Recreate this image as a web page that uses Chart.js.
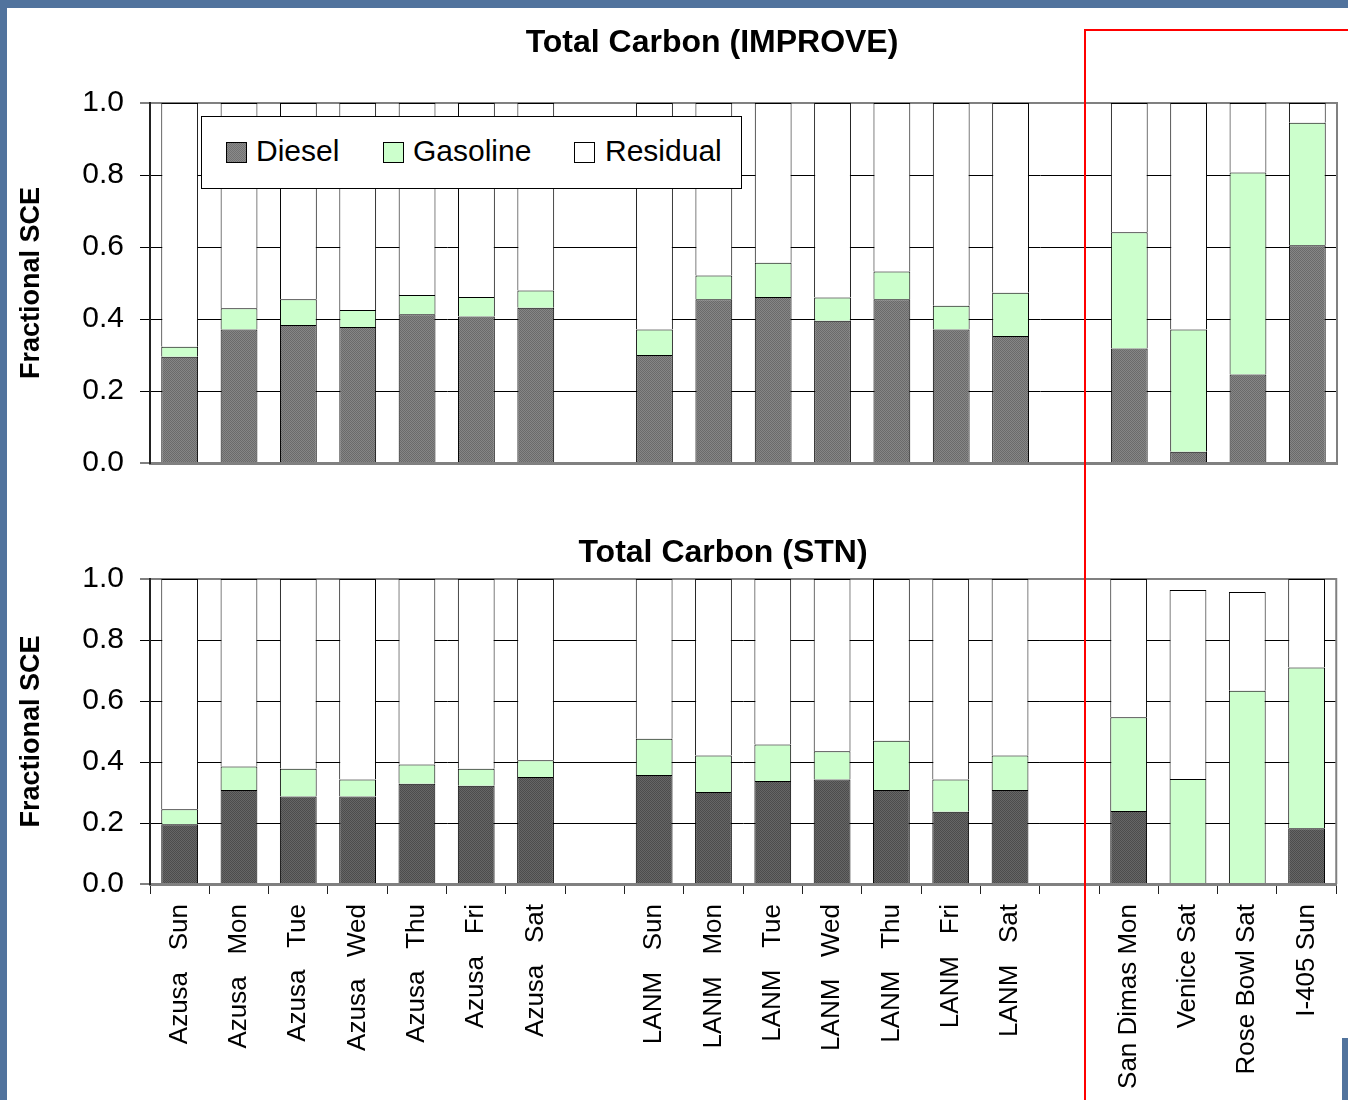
<!DOCTYPE html>
<html>
<head>
<meta charset="utf-8">
<title>Total Carbon source apportionment</title>
<script src="https://cdn.jsdelivr.net/npm/chart.js@4.4.1/dist/chart.umd.min.js"></script>
<style>
  html, body { margin: 0; padding: 0; }
  body {
    width: 1348px; height: 1100px; overflow: hidden; position: relative;
    background: #51739d;
    font-family: "Liberation Sans", Arial, sans-serif; color: #000;
  }
  #sheet { position: absolute; left: 7px; top: 8px; right: 0; bottom: 0; background: #fff; }
  #corner { position: absolute; left: 1342px; top: 1038px; width: 6px; height: 62px; background: #51739d; }
  canvas.plot { position: absolute; left: 0; }
  #improveCanvas { top: 0; }
  #stnCanvas { top: 500px; }
  .title {
    position: absolute; font-weight: bold; font-size: 32px; line-height: 38px;
    white-space: nowrap; transform: translateX(-50%);
  }
  #legend {
    position: absolute; left: 201px; top: 116px; width: 539px; height: 71px;
    border: 1px solid #000; background: #fff;
  }
  #legend .sw { position: absolute; top: 25px; width: 19px; height: 19px; border: 1px solid #000; box-sizing: content-box; }
  #legend .lbl { position: absolute; top: 17px; font-size: 30px; line-height: 34px; white-space: nowrap; }
  .red { position: absolute; background: #ff0000; }
</style>
</head>
<body>
<div id="sheet"></div>
<div id="corner"></div>

<canvas id="improveCanvas" class="plot" width="1348" height="498"></canvas>
<canvas id="stnCanvas" class="plot" width="1348" height="600"></canvas>

<div class="title" style="left:712px; top:22px;">Total Carbon (IMPROVE)</div>
<div class="title" style="left:723px; top:532px;">Total Carbon (STN)</div>

<div id="legend">
  <div class="sw" style="left:24px; background: repeating-conic-gradient(#8a8a8a 0 25%, #727272 0 50%) 0 0/2px 2px;"></div>
  <div class="lbl" style="left:54px;">Diesel</div>
  <div class="sw" style="left:181px; background:#ccffcc;"></div>
  <div class="lbl" style="left:211px;">Gasoline</div>
  <div class="sw" style="left:372px; background:#ffffff;"></div>
  <div class="lbl" style="left:403px;">Residual</div>
</div>

<div class="red" style="left:1084px; top:29px; width:264px; height:2px;"></div>
<div class="red" style="left:1084px; top:29px; width:2px; height:1071px;"></div>

<script>
// Sites / days along the category axis; blank entries leave a gap between groups
const categories = [
  'Azusa   Sun', 'Azusa   Mon', 'Azusa   Tue', 'Azusa   Wed', 'Azusa   Thu', 'Azusa   Fri', 'Azusa   Sat',
  '',
  'LANM   Sun', 'LANM   Mon', 'LANM   Tue', 'LANM   Wed', 'LANM   Thu', 'LANM   Fri', 'LANM   Sat',
  '',
  'San Dimas Mon', 'Venice Sat', 'Rose Bowl Sat', 'I-405 Sun'
];

const seriesNames = ['Diesel', 'Gasoline', 'Residual'];

// Fractional SCE, IMPROVE total carbon
const improveDiesel   = [0.295, 0.371, 0.383, 0.378, 0.413, 0.407, 0.431, null, 0.300, 0.455, 0.461, 0.395, 0.455, 0.371, 0.353, null, 0.318, 0.031, 0.246, 0.605];
const improveGasoline = [0.028, 0.059, 0.072, 0.047, 0.054, 0.054, 0.048, null, 0.071, 0.066, 0.095, 0.065, 0.077, 0.066, 0.120, null, 0.323, 0.340, 0.561, 0.340];
const improveResidual = [0.677, 0.570, 0.545, 0.575, 0.533, 0.539, 0.521, null, 0.629, 0.479, 0.444, 0.540, 0.468, 0.563, 0.527, null, 0.359, 0.629, 0.193, 0.055];

// Fractional SCE, STN total carbon
const stnDiesel   = [0.196, 0.308, 0.287, 0.287, 0.329, 0.322, 0.351, null, 0.357, 0.302, 0.338, 0.343, 0.308, 0.237, 0.308, null, 0.239, 0, 0, 0.183];
const stnGasoline = [0.049, 0.077, 0.091, 0.056, 0.063, 0.056, 0.055, null, 0.119, 0.119, 0.119, 0.092, 0.162, 0.106, 0.113, null, 0.308, 0.344, 0.634, 0.527];
const stnResidual = [0.755, 0.615, 0.622, 0.657, 0.608, 0.622, 0.594, null, 0.524, 0.579, 0.543, 0.565, 0.530, 0.657, 0.579, null, 0.453, 0.620, 0.323, 0.290];

const yTicks = [0, 0.2, 0.4, 0.6, 0.8, 1.0];
const yAxisTitle = 'Fractional SCE';

Chart.defaults.font.family = '"Liberation Sans", Arial, sans-serif';
Chart.defaults.color = '#000';

// fine two-tone stipple used for the diesel fill
function stipple(light, dark) {
  const c = document.createElement('canvas');
  c.width = 2; c.height = 2;
  const g = c.getContext('2d');
  g.fillStyle = light; g.fillRect(0, 0, 2, 2);
  g.fillStyle = dark; g.fillRect(0, 0, 1, 1); g.fillRect(1, 1, 1, 1);
  return g.createPattern(c, 'repeat');
}

// gray right-hand edge of the plot area
const plotFrame = {
  id: 'plotFrame',
  beforeDatasetsDraw(chart) {
    const { ctx, chartArea: a } = chart;
    ctx.save();
    ctx.strokeStyle = '#808080';
    ctx.lineWidth = 2;
    ctx.beginPath();
    ctx.moveTo(a.right, a.top - 1);
    ctx.lineTo(a.right, a.bottom);
    ctx.stroke();
    ctx.restore();
  }
};

const isEdge = v => Math.abs(v) < 1e-6 || Math.abs(v - 1) < 1e-6;

function buildDatasets(diesel, gasoline, residual, dieselFill) {
  const common = {
    borderColor: '#000',
    categoryPercentage: 1.0,
    barPercentage: 0.62,
    stack: 'sce'
  };
  return [
    Object.assign({ label: seriesNames[0], data: diesel, backgroundColor: dieselFill,
      borderWidth: c => (c.raw ? 1 : 0) }, common),
    Object.assign({ label: seriesNames[1], data: gasoline, backgroundColor: '#ccffcc', borderWidth: 1 }, common),
    Object.assign({ label: seriesNames[2], data: residual, backgroundColor: '#ffffff', borderWidth: 1 }, common)
  ];
}

function yScale(titlePad) {
  return {
    stacked: true,
    min: 0,
    max: 1,
    afterBuildTicks: s => { s.ticks = yTicks.map(v => ({ value: v })); },
    afterFit: s => { s.width = 150; },
    ticks: {
      font: { size: 30 },
      padding: 16,
      callback: v => Number(v).toFixed(1)
    },
    grid: {
      color: c => (c.tick && isEdge(c.tick.value)) ? '#808080' : '#000',
      lineWidth: c => (c.tick && isEdge(c.tick.value)) ? 2 : 1,
      tickColor: '#000',
      tickWidth: 1,
      tickLength: 10,
      drawTicks: true
    },
    border: { color: '#222', width: 2 },
    title: {
      display: true,
      text: yAxisTitle,
      font: { size: 27, weight: 'bold' },
      padding: { top: titlePad, bottom: 0 }
    }
  };
}

new Chart(document.getElementById('improveCanvas'), {
  type: 'bar',
  data: { labels: categories, datasets: buildDatasets(improveDiesel, improveGasoline, improveResidual, stipple('#868686', '#6a6a6a')) },
  plugins: [plotFrame],
  options: {
    responsive: false,
    animation: false,
    layout: { padding: { left: 0, top: 103, right: 11, bottom: 35 } },
    plugins: { legend: { display: false }, tooltip: { enabled: false }, title: { display: false } },
    scales: {
      x: {
        stacked: true,
        afterFit: s => { s.height = 0; },
        ticks: { display: false },
        grid: { display: false, drawTicks: false },
        border: { color: '#808080', width: 3 }
      },
      y: yScale(15)
    }
  }
});

new Chart(document.getElementById('stnCanvas'), {
  type: 'bar',
  data: { labels: categories, datasets: buildDatasets(stnDiesel, stnGasoline, stnResidual, stipple('#666666', '#4c4c4c')) },
  plugins: [plotFrame],
  options: {
    responsive: false,
    animation: false,
    layout: { padding: { left: 0, top: 79, right: 8, bottom: 0 } },
    plugins: { legend: { display: false }, tooltip: { enabled: false }, title: { display: false } },
    scales: {
      x: {
        stacked: true,
        afterFit: s => { s.height = 216; },
        ticks: {
          autoSkip: false,
          minRotation: 90,
          maxRotation: 90,
          padding: 10,
          font: { size: 26 }
        },
        grid: {
          drawOnChartArea: false,
          drawTicks: true,
          tickLength: 10,
          color: '#222',
          offset: true
        },
        border: { color: '#808080', width: 3 }
      },
      y: yScale(15)
    }
  }
});
</script>
</body>
</html>
